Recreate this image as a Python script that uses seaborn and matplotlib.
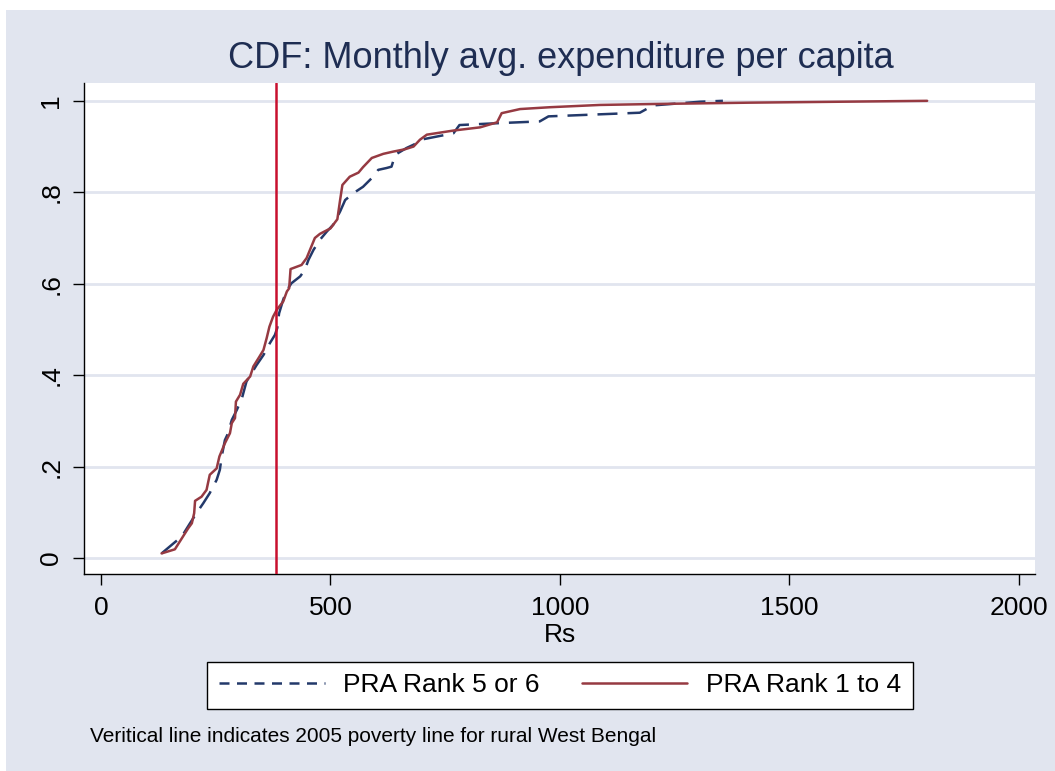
import pandas as pd
import matplotlib.pyplot as plt
import seaborn as sns
from matplotlib.lines import Line2D
from matplotlib.patches import Rectangle

# cumulative distribution (Rs, share of households)
rank56_rs = [132, 158, 176, 194, 208, 223, 237, 252, 259, 263, 270, 277, 285, 296,
             307, 317, 328, 339, 354, 368, 379, 384, 388, 397, 405, 415, 434, 444,
             452, 463, 477, 492, 506, 521, 532, 550, 571, 593, 604, 622, 633, 641,
             666, 681, 702, 768, 781, 862, 956, 975, 1174, 1203, 1305, 1355]
rank56_cdf = [0.010, 0.032, 0.047, 0.076, 0.098, 0.120, 0.142, 0.171, 0.193, 0.222,
              0.258, 0.273, 0.302, 0.324, 0.349, 0.386, 0.404, 0.422, 0.444, 0.470,
              0.488, 0.503, 0.535, 0.565, 0.586, 0.601, 0.616, 0.630, 0.652, 0.674,
              0.696, 0.714, 0.729, 0.758, 0.783, 0.798, 0.812, 0.834, 0.849, 0.853,
              0.856, 0.882, 0.897, 0.904, 0.916, 0.929, 0.947, 0.951, 0.955, 0.966,
              0.974, 0.990, 0.998, 1.000]

rank14_rs = [132, 161, 190, 198, 203, 205, 219, 230, 237, 252, 258, 270, 281, 285,
             292, 294, 303, 310, 325, 332, 345, 354, 361, 367, 375, 383, 397, 405,
             410, 413, 437, 448, 466, 477, 500, 515, 521, 526, 542, 561, 571, 590,
             615, 637, 662, 681, 695, 710, 768, 826, 863, 873, 913, 978, 1087, 1203,
             1414, 1800]
rank14_cdf = [0.010, 0.019, 0.065, 0.076, 0.098, 0.125, 0.134, 0.149, 0.182, 0.196,
              0.222, 0.251, 0.273, 0.295, 0.306, 0.342, 0.357, 0.381, 0.397, 0.419,
              0.440, 0.455, 0.481, 0.506, 0.528, 0.543, 0.561, 0.583, 0.590, 0.632,
              0.641, 0.656, 0.700, 0.709, 0.721, 0.741, 0.783, 0.816, 0.834, 0.843,
              0.855, 0.875, 0.884, 0.889, 0.894, 0.900, 0.915, 0.926, 0.935, 0.942,
              0.953, 0.973, 0.982, 0.986, 0.991, 0.993, 0.996, 1.000]

poverty_line = 382
x_ticks = [0, 500, 1000, 1500, 2000]
y_ticks = [0, 0.2, 0.4, 0.6, 0.8, 1]
y_tick_labels = ['0', '.2', '.4', '.6', '.8', '1']

lbl56 = 'PRA Rank 5 or 6'
lbl14 = 'PRA Rank 1 to 4'

df = pd.concat([
    pd.DataFrame({'Rs': rank56_rs, 'cdf': rank56_cdf, 'group': lbl56}),
    pd.DataFrame({'Rs': rank14_rs, 'cdf': rank14_cdf, 'group': lbl14}),
], ignore_index=True)

bg = '#E1E5EF'
navy = '#23396A'
maroon = '#963A42'
red = '#C8102E'

sns.set_style("white")
plt.rcParams['font.family'] = ['Liberation Sans', 'DejaVu Sans']
plt.rcParams['text.color'] = 'black'
plt.rcParams['axes.labelcolor'] = 'black'
plt.rcParams['xtick.color'] = 'black'
plt.rcParams['ytick.color'] = 'black'

fig = plt.figure(figsize=(10.55, 7.71), dpi=100)
fig.patch.set_facecolor('white')
fig.patches.append(Rectangle((6 / 1055, 0), 1, 761 / 771, transform=fig.transFigure,
                             facecolor=bg, edgecolor='none', zorder=-10))

ax = fig.add_axes([84 / 1055, 197 / 771, 951 / 1055, 491 / 771])
ax.set_facecolor('white')

for yv in y_ticks:
    ax.axhline(yv, color=bg, lw=2, zorder=0.5)

sns.lineplot(data=df, x='Rs', y='cdf', hue='group', style='group',
             palette={lbl56: navy, lbl14: maroon},
             dashes={lbl56: (8, 4), lbl14: ''},
             sort=False, estimator=None, lw=1.8, legend=False, ax=ax)

ax.axvline(poverty_line, color=red, lw=1.8, zorder=5)

ax.set_xlim(-37, 2035)
ax.set_ylim(-0.035, 1.039)
ax.set_xticks(x_ticks)
ax.set_xticklabels([str(v) for v in x_ticks], fontsize=19)
ax.set_yticks(y_ticks)
ax.set_yticklabels(y_tick_labels, fontsize=19, rotation=90, va='center')
ax.tick_params(axis='both', direction='out', bottom=True, left=True,
               length=8, width=1, color='black', labelcolor='black')
ax.tick_params(axis='y', pad=7)
ax.tick_params(axis='x', length=8, pad=8)
ax.set_xlabel('Rs', fontsize=19, labelpad=2, color='black')
ax.set_ylabel('')

for side in ['top', 'right']:
    ax.spines[side].set_visible(False)
for side in ['left', 'bottom']:
    ax.spines[side].set_color('black')
    ax.spines[side].set_linewidth(1)

fig.text(561 / 1055, (771 - 58) / 771, 'CDF: Monthly avg. expenditure per capita',
         ha='center', va='center', fontsize=26, color='#1E2D52')

handles = [Line2D([], [], color=navy, lw=1.8, dashes=(4, 3)),
           Line2D([], [], color=maroon, lw=1.8)]
leg = fig.legend(handles, [lbl56, lbl14], ncol=2, loc='center',
                 bbox_to_anchor=(560 / 1055, (771 - 685.5) / 771),
                 fontsize=19, handlelength=4, handletextpad=0.7, columnspacing=1.6,
                 frameon=True, fancybox=False, framealpha=1, borderpad=0.45,
                 labelcolor='black')
leg.get_frame().set_edgecolor('black')
leg.get_frame().set_facecolor('white')
leg.get_frame().set_linewidth(1)

fig.text(90 / 1055, (771 - 737) / 771,
         'Veritical line indicates 2005 poverty line for rural West Bengal',
         ha='left', va='center', fontsize=15, color='black')

fig.savefig('out.png', dpi=100, facecolor=fig.get_facecolor())
